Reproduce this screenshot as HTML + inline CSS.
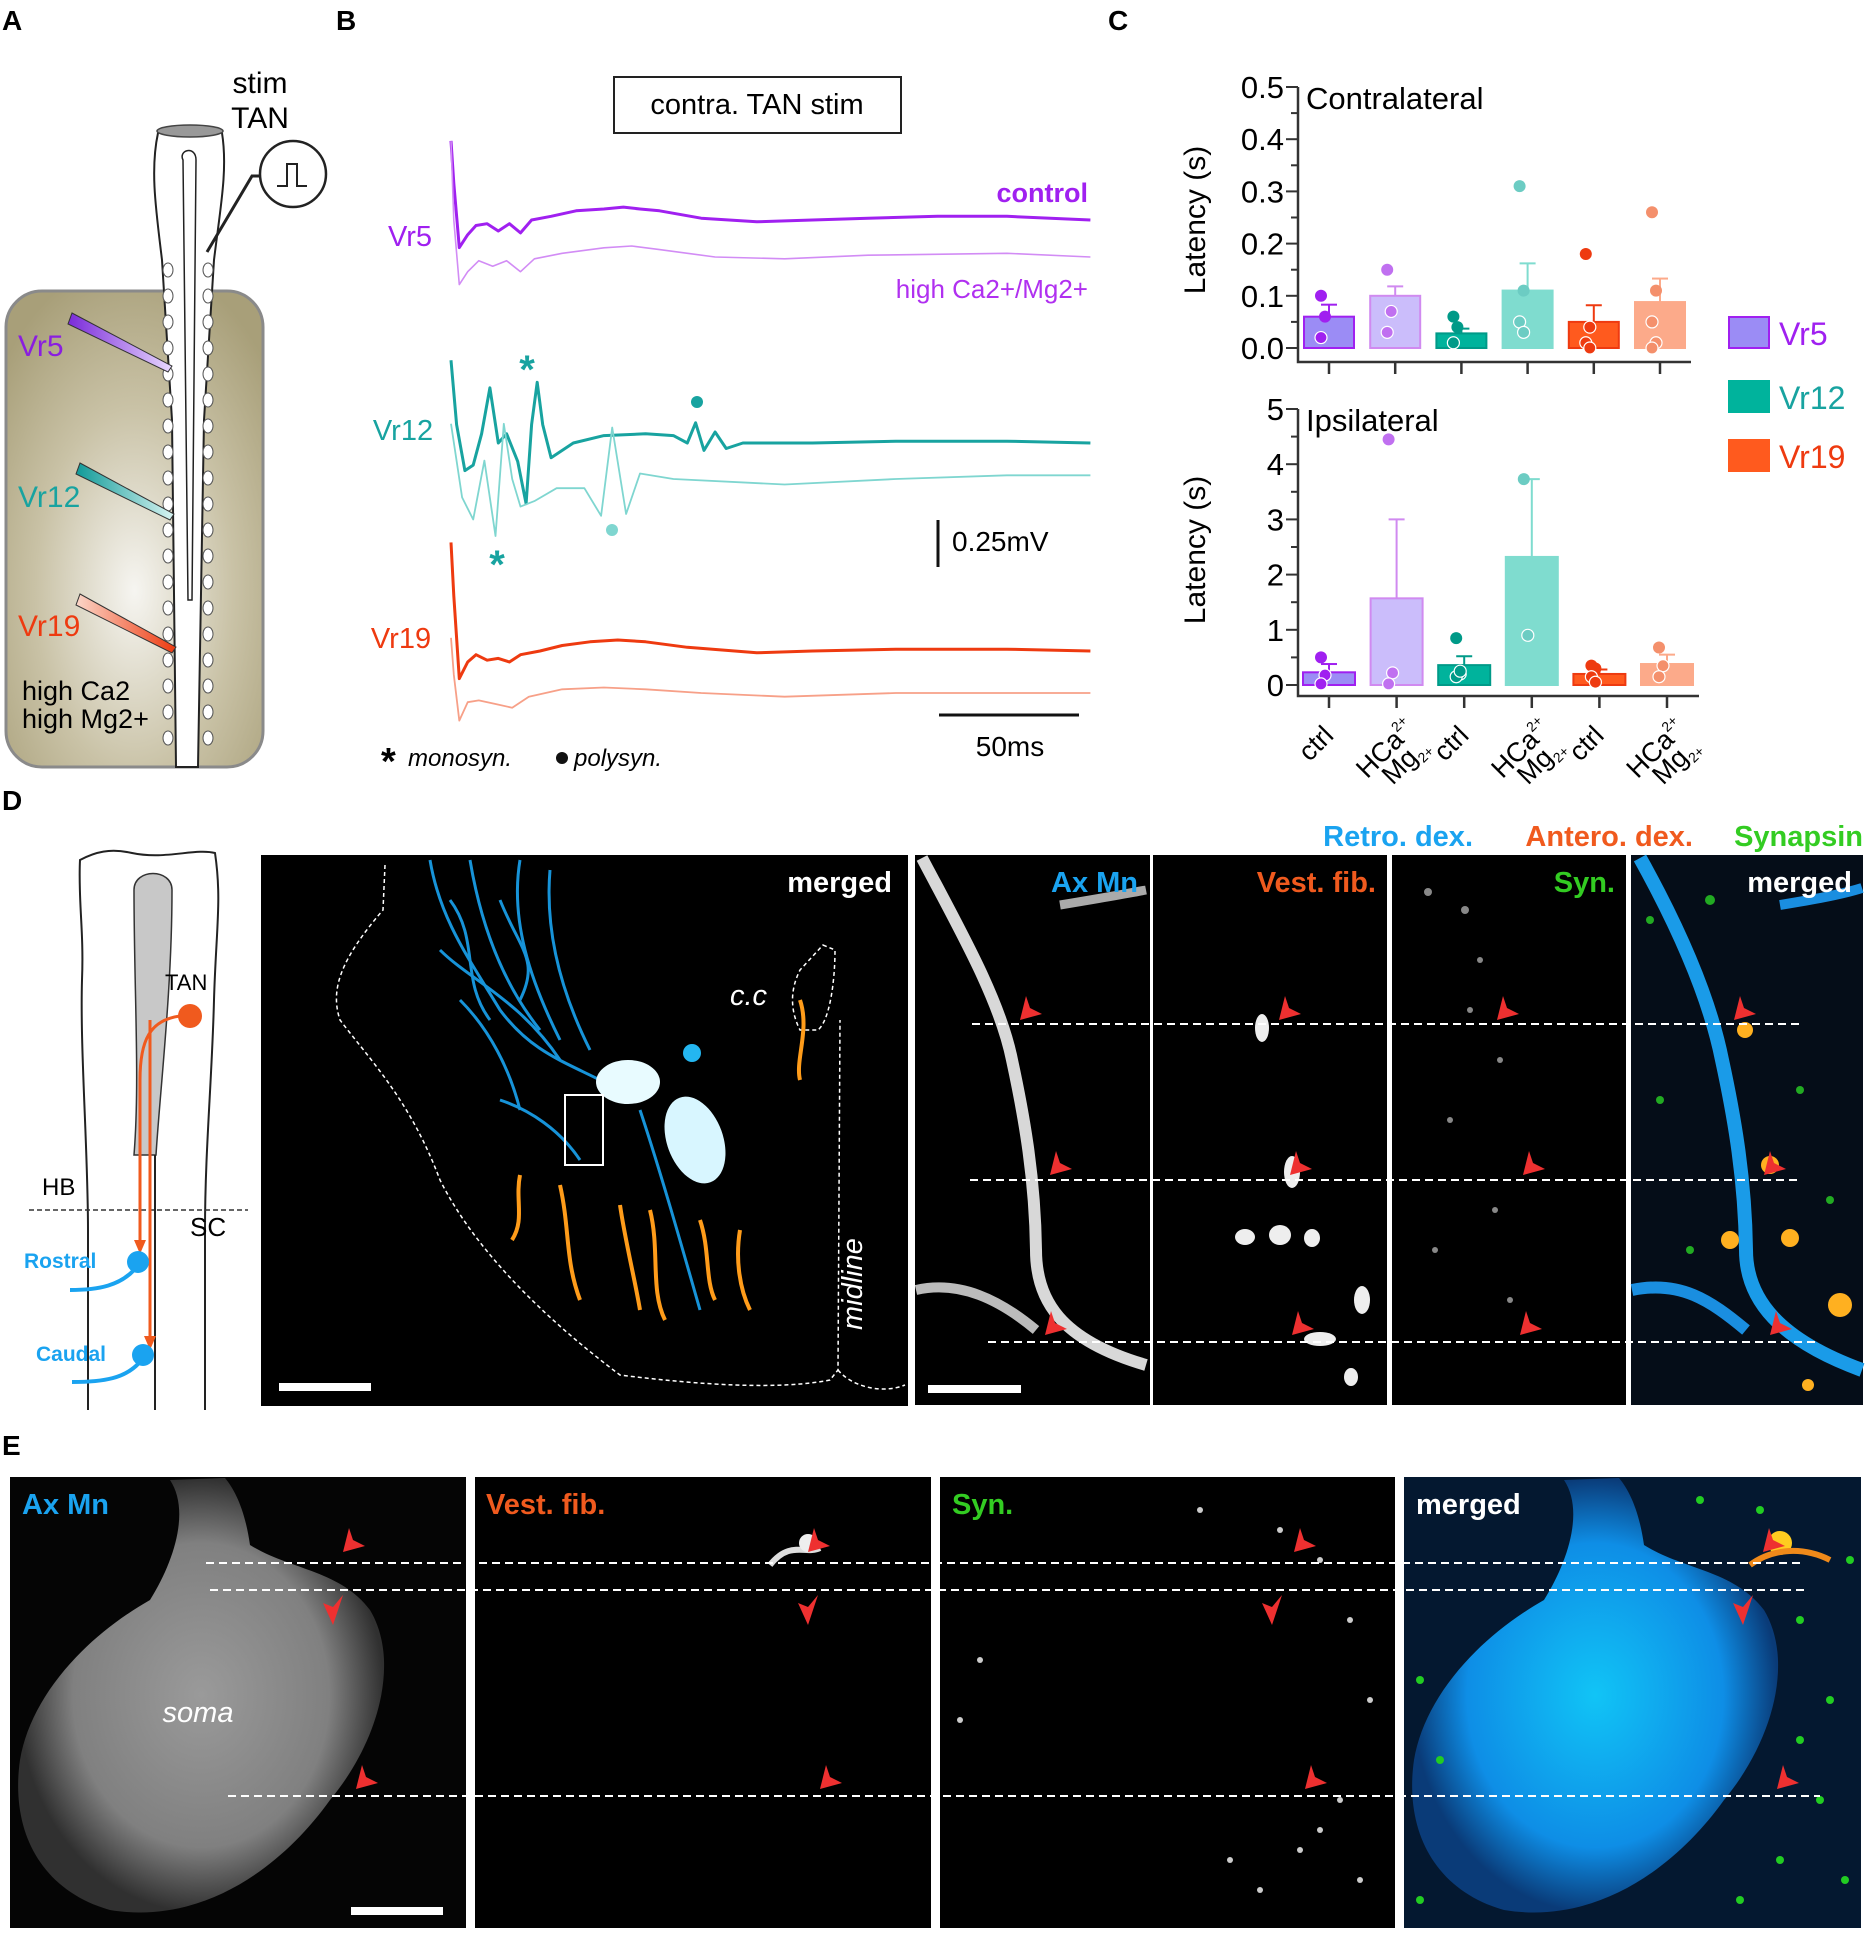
<!DOCTYPE html>
<html><head><meta charset="utf-8"><style>
html,body{margin:0;padding:0;background:#fff}
svg{display:block;font-family:"Liberation Sans",sans-serif}
</style></head><body>
<svg id="fig" xmlns="http://www.w3.org/2000/svg" width="1875" height="1937" viewBox="0 0 1875 1937">
<defs>
<radialGradient id="tan" cx="0.5" cy="0.63" r="0.7"><stop offset="0" stop-color="#f6f5f1"/><stop offset="0.55" stop-color="#c9c2a6"/><stop offset="1" stop-color="#a89f79"/></radialGradient>
<linearGradient id="g5" x1="0" y1="0" x2="1" y2="0"><stop offset="0" stop-color="#7a2ad8"/><stop offset="1" stop-color="#e8d8ff"/></linearGradient>
<linearGradient id="g12" x1="0" y1="0" x2="1" y2="0"><stop offset="0" stop-color="#109a98"/><stop offset="1" stop-color="#d8f4f2"/></linearGradient>
<linearGradient id="g19" x1="0" y1="0" x2="1" y2="0"><stop offset="0" stop-color="#fbd6c8"/><stop offset="1" stop-color="#ee3a10"/></linearGradient>
<radialGradient id="somaG" cx="0.5" cy="0.5" r="0.5"><stop offset="0" stop-color="#9a9a9a"/><stop offset="0.7" stop-color="#808080"/><stop offset="1" stop-color="#303030"/></radialGradient>
<radialGradient id="somaB" cx="0.5" cy="0.5" r="0.5"><stop offset="0" stop-color="#11c4f6"/><stop offset="0.7" stop-color="#0e8ee6"/><stop offset="1" stop-color="#0a3b78"/></radialGradient>
</defs>

<text x="2" y="30" font-size="28" font-weight="bold">A</text>
<text x="336" y="30" font-size="28" font-weight="bold">B</text>
<text x="1108" y="30" font-size="28" font-weight="bold">C</text>
<text x="2" y="810" font-size="28" font-weight="bold">D</text>
<text x="2" y="1455" font-size="28" font-weight="bold">E</text>

<!-- ===== Panel A ===== -->
<g>
<rect x="6" y="291" width="257" height="476" rx="36" fill="url(#tan)" stroke="#8a8a8a" stroke-width="3"/>
<path d="M158,133 C150,170 156,210 162,260 L172,420 L176,767 L198,767 L204,420 L214,260 C220,210 228,170 222,133 Z" fill="#fff" stroke="#222" stroke-width="2"/>
<path d="M183,160 C178,150 196,145 196,160 L192,600 L188,600 Z" fill="#fff" stroke="#222" stroke-width="1.5"/>
<ellipse cx="190" cy="131" rx="33" ry="6" fill="#999" stroke="#444" stroke-width="1.5"/>
<g fill="#fff" stroke="#555" stroke-width="1" id="roots"></g>
<text x="260" y="93" font-size="30" text-anchor="middle">stim</text>
<text x="260" y="128" font-size="30" text-anchor="middle">TAN</text>
<circle cx="293" cy="174" r="33" fill="#fff" stroke="#222" stroke-width="2.5"/>
<path d="M277,186 h10 v-22 h10 v22 h10" fill="none" stroke="#222" stroke-width="2"/>
<path d="M261,176 L252,176 L207,252" fill="none" stroke="#222" stroke-width="3"/>
<path d="M72,313 L172,366 L168,372 L68,324 Z" fill="url(#g5)" stroke="#333" stroke-width="1"/>
<path d="M80,463 L174,514 L170,520 L76,474 Z" fill="url(#g12)" stroke="#333" stroke-width="1"/>
<path d="M80,594 L176,647 L172,653 L76,605 Z" fill="url(#g19)" stroke="#333" stroke-width="1"/>
<text x="18" y="356" font-size="30" fill="#8a1ee0">Vr5</text>
<text x="18" y="507" font-size="30" fill="#18a3a0">Vr12</text>
<text x="18" y="636" font-size="30" fill="#ee3a10">Vr19</text>
<text x="22" y="700" font-size="27">high Ca2</text>
<text x="22" y="728" font-size="27">high Mg2+</text>
</g>

<!-- ===== Panel B ===== -->
<g>
<rect x="614" y="77" width="287" height="56" fill="#fff" stroke="#222" stroke-width="2"/>
<text x="757" y="114" font-size="29" text-anchor="middle">contra. TAN stim</text>
<text x="410" y="246" font-size="29" fill="#a020f0" text-anchor="middle">Vr5</text>
<text x="403" y="440" font-size="29" fill="#18a3a0" text-anchor="middle">Vr12</text>
<text x="401" y="648" font-size="29" fill="#ee3a10" text-anchor="middle">Vr19</text>
<text x="1088" y="202" font-size="27" font-weight="bold" fill="#a020f0" text-anchor="end">control</text>
<text x="1088" y="298" font-size="26" fill="#b030f0" text-anchor="end">high Ca2+/Mg2+</text>
<g id="traces"></g>
<text x="527" y="383" font-size="40" font-weight="bold" fill="#18a3a0" text-anchor="middle">*</text>
<text x="497" y="578" font-size="40" font-weight="bold" fill="#18a3a0" text-anchor="middle">*</text>
<circle cx="697" cy="402" r="6" fill="#18a3a0"/>
<circle cx="612" cy="530" r="6" fill="#7fd6d0"/>
<line x1="938" y1="520" x2="938" y2="567" stroke="#111" stroke-width="3"/>
<text x="952" y="551" font-size="28">0.25mV</text>
<line x1="939" y1="715" x2="1079" y2="715" stroke="#111" stroke-width="3"/>
<text x="1010" y="756" font-size="28" text-anchor="middle">50ms</text>
<text x="381" y="774" font-size="38" font-weight="bold">*</text>
<text x="408" y="766" font-size="24" font-style="italic">monosyn.</text>
<circle cx="562" cy="758" r="6" fill="#111"/>
<text x="574" y="766" font-size="24" font-style="italic">polysyn.</text>
</g>

<!-- ===== Panel C ===== -->
<g id="chartC"></g>

<!-- ===== Panel D schematic ===== -->
<g>
<path d="M88,1410 L88,1230 C88,1150 80,1050 82,980 C84,930 78,900 80,860 C95,852 110,848 132,853 C165,860 195,848 215,853 C222,900 216,930 214,1000 C212,1080 205,1150 205,1230 L205,1410" fill="#fff" stroke="#222" stroke-width="2"/>
<path d="M134,1155 C140,1080 134,990 134,890 C134,868 172,868 172,890 C172,990 160,1090 156,1155 Z" fill="#c8c8c8" stroke="#333" stroke-width="1.5"/>
<line x1="155" y1="1155" x2="155" y2="1410" stroke="#222" stroke-width="2"/>
<line x1="29" y1="1210" x2="248" y2="1210" stroke="#333" stroke-width="1.5" stroke-dasharray="5,3"/>
<text x="42" y="1195" font-size="24">HB</text>
<text x="190" y="1236" font-size="26">SC</text>
<text x="165" y="990" font-size="22">TAN</text>
<circle cx="190" cy="1016" r="12" fill="#f05a1e"/>
<path d="M180,1016 C150,1020 140,1040 140,1080 L140,1240" fill="none" stroke="#f05a1e" stroke-width="3"/>
<path d="M134,1240 L140,1254 L146,1240 Z" fill="#f05a1e"/>
<line x1="150" y1="1020" x2="150" y2="1340" stroke="#f05a1e" stroke-width="3"/>
<path d="M144,1336 L150,1350 L156,1336 Z" fill="#f05a1e"/>
<text x="24" y="1268" font-size="21" font-weight="bold" fill="#1aa3f0">Rostral</text>
<circle cx="138" cy="1262" r="11" fill="#1aa3f0"/>
<path d="M134,1270 C120,1285 100,1290 70,1290" fill="none" stroke="#1aa3f0" stroke-width="4"/>
<text x="36" y="1361" font-size="21" font-weight="bold" fill="#1aa3f0">Caudal</text>
<circle cx="143" cy="1355" r="11" fill="#1aa3f0"/>
<path d="M139,1363 C125,1378 105,1382 72,1382" fill="none" stroke="#1aa3f0" stroke-width="4"/>
</g>

<!-- ===== Panel D image 1 ===== -->
<g>
<rect x="261" y="855" width="647" height="551" fill="#000"/>
<path d="M385,865 L383,910 C340,960 330,990 340,1020 C370,1060 410,1100 440,1180 C480,1260 560,1330 620,1375 C700,1385 780,1390 830,1380 L838,1370 L840,1020" fill="none" stroke="#fff" stroke-width="1.5" stroke-dasharray="4,3"/>
<path d="M838,1370 C850,1385 880,1395 905,1385" fill="none" stroke="#fff" stroke-width="1.5" stroke-dasharray="4,3"/>
<path d="M823,945 L835,950 C835,980 830,1020 818,1030 L800,1030 C790,1010 790,990 800,970 Z" fill="none" stroke="#fff" stroke-width="1.5" stroke-dasharray="4,3"/>
<g stroke="#1aa3f0" stroke-width="3" fill="none" opacity="0.9">
<path d="M430,860 C440,920 470,960 500,1010 C530,1050 560,1060 600,1080"/>
<path d="M470,860 C480,920 500,980 540,1030"/>
<path d="M520,860 C510,920 530,980 560,1040"/>
<path d="M550,870 C545,930 560,990 590,1050"/>
<path d="M440,950 C470,980 520,1000 560,1060"/>
<path d="M460,1000 C490,1030 510,1070 520,1110"/>
<path d="M500,1100 C530,1110 560,1130 580,1160"/>
<path d="M640,1110 C660,1170 680,1240 700,1310"/>
<path d="M450,900 C480,940 460,980 490,1020"/>
<path d="M500,900 C520,950 540,960 520,1000"/>
</g>
<ellipse cx="628" cy="1082" rx="32" ry="22" fill="#e8fbff"/>
<ellipse cx="695" cy="1140" rx="28" ry="45" fill="#d8f6ff" transform="rotate(-20 695 1140)"/>
<circle cx="692" cy="1053" r="9" fill="#24b6f0"/>
<g stroke="#ff9c1a" stroke-width="4" fill="none">
<path d="M520,1175 C515,1200 525,1220 512,1240"/>
<path d="M560,1185 C570,1230 565,1260 580,1300"/>
<path d="M620,1205 C625,1240 635,1280 640,1310"/>
<path d="M650,1210 C660,1250 650,1290 665,1320"/>
<path d="M700,1220 C710,1250 705,1280 715,1300"/>
<path d="M740,1230 C735,1260 740,1290 750,1310"/>
<path d="M800,1000 C810,1030 795,1060 800,1080"/>
</g>
<rect x="565" y="1095" width="38" height="70" fill="none" stroke="#fff" stroke-width="2"/>
<text x="892" y="892" font-size="29" font-weight="bold" fill="#fff" text-anchor="end">merged</text>
<text x="730" y="1005" font-size="29" font-style="italic" fill="#fff">c.c</text>
<text transform="translate(862 1330) rotate(-90)" font-size="29" font-style="italic" fill="#fff">midline</text>
<rect x="279" y="1383" width="92" height="8" fill="#fff"/>
</g>

<!-- ===== Panel D zoom panels ===== -->
<g>
<text x="1473" y="846" font-size="29" font-weight="bold" fill="#1aa3f0" text-anchor="end">Retro. dex.</text>
<text x="1693" y="846" font-size="29" font-weight="bold" fill="#f05a1e" text-anchor="end">Antero. dex.</text>
<text x="1863" y="846" font-size="29" font-weight="bold" fill="#33cc22" text-anchor="end">Synapsin</text>
<rect x="915" y="855" width="235" height="550" fill="#000"/>
<rect x="1153" y="855" width="234" height="550" fill="#000"/>
<rect x="1392" y="855" width="234" height="550" fill="#000"/>
<rect x="1631" y="855" width="232" height="550" fill="#050d18"/>
<path d="M922,858 C960,930 1000,1000 1012,1060 C1025,1120 1035,1180 1036,1250 C1036,1300 1060,1340 1146,1365" fill="none" stroke="#d8d8d8" stroke-width="12"/>
<path d="M916,1290 C960,1280 1000,1300 1036,1330" fill="none" stroke="#bbb" stroke-width="10"/>
<path d="M1060,905 C1090,900 1120,895 1146,890" fill="none" stroke="#aaa" stroke-width="9"/>
<g fill="#eee"><ellipse cx="1262" cy="1028" rx="7" ry="14"/><ellipse cx="1292" cy="1172" rx="8" ry="16"/><ellipse cx="1245" cy="1237" rx="10" ry="8"/><ellipse cx="1280" cy="1235" rx="11" ry="10"/><ellipse cx="1312" cy="1238" rx="8" ry="9"/><ellipse cx="1320" cy="1339" rx="16" ry="7"/><ellipse cx="1351" cy="1377" rx="7" ry="9"/><ellipse cx="1362" cy="1300" rx="8" ry="14"/></g>
<g fill="#888"><circle cx="1428" cy="892" r="4"/><circle cx="1465" cy="910" r="4"/><circle cx="1480" cy="960" r="3"/><circle cx="1470" cy="1010" r="3"/><circle cx="1500" cy="1060" r="3"/><circle cx="1450" cy="1120" r="3"/><circle cx="1495" cy="1210" r="3"/><circle cx="1435" cy="1250" r="3"/><circle cx="1510" cy="1300" r="3"/></g>
<path d="M1640,858 C1680,930 1710,1000 1722,1060 C1735,1120 1745,1180 1746,1250 C1746,1300 1780,1340 1862,1370" fill="none" stroke="#1a9be8" stroke-width="14"/>
<path d="M1632,1290 C1680,1280 1710,1300 1746,1330" fill="none" stroke="#1a8ee0" stroke-width="12"/>
<path d="M1780,905 C1810,900 1840,895 1862,888" fill="none" stroke="#1a8ee0" stroke-width="10"/>
<g fill="#ffb020"><circle cx="1745" cy="1030" r="8"/><circle cx="1770" cy="1165" r="9"/><circle cx="1730" cy="1240" r="9"/><circle cx="1790" cy="1238" r="9"/><circle cx="1840" cy="1305" r="12"/><circle cx="1808" cy="1385" r="6"/></g>
<g fill="#22aa22"><circle cx="1650" cy="920" r="4"/><circle cx="1710" cy="900" r="5"/><circle cx="1690" cy="1250" r="4"/><circle cx="1800" cy="1090" r="4"/><circle cx="1660" cy="1100" r="4"/><circle cx="1830" cy="1200" r="4"/></g>
<text x="1138" y="892" font-size="29" font-weight="bold" fill="#1aa3f0" text-anchor="end">Ax Mn</text>
<text x="1376" y="892" font-size="29" font-weight="bold" fill="#f05a1e" text-anchor="end">Vest. fib.</text>
<text x="1615" y="892" font-size="29" font-weight="bold" fill="#33cc22" text-anchor="end">Syn.</text>
<text x="1852" y="892" font-size="29" font-weight="bold" fill="#fff" text-anchor="end">merged</text>
<g stroke="#fff" stroke-width="2" stroke-dasharray="8,5">
<line x1="972" y1="1024" x2="1800" y2="1024"/><line x1="970" y1="1180" x2="1800" y2="1180"/><line x1="988" y1="1342" x2="1815" y2="1342"/>
</g>
<rect x="928" y="1385" width="93" height="8" fill="#fff"/>
<g id="arrowsD" fill="#ee3030"></g>
</g>

<!-- ===== Panel E ===== -->
<g>
<rect x="10" y="1477" width="456" height="451" fill="#050505"/>
<rect x="475" y="1477" width="456" height="451" fill="#000"/>
<rect x="940" y="1477" width="455" height="451" fill="#000"/>
<rect x="1404" y="1477" width="457" height="451" fill="#041830"/>
<path d="M170,1480 C190,1510 175,1560 150,1600 C80,1640 30,1700 20,1760 C10,1830 40,1890 110,1910 C200,1925 280,1870 330,1800 C380,1740 400,1660 370,1610 C340,1570 290,1570 250,1545 C245,1510 235,1490 225,1478 Z" fill="url(#somaG)"/>
<text x="198" y="1722" font-size="29" font-style="italic" fill="#fff" text-anchor="middle">soma</text>
<rect x="351" y="1907" width="92" height="8" fill="#fff"/>
<path d="M1564,1480 C1584,1510 1569,1560 1544,1600 C1474,1640 1424,1700 1414,1760 C1404,1830 1434,1890 1504,1910 C1594,1925 1674,1870 1724,1800 C1774,1740 1794,1660 1764,1610 C1734,1570 1684,1570 1644,1545 C1639,1510 1629,1490 1619,1478 Z" fill="url(#somaB)"/>
<path d="M770,1565 C790,1540 805,1555 820,1548" stroke="#ddd" stroke-width="6" fill="none"/>
<circle cx="808" cy="1543" r="9" fill="#eee"/>
<circle cx="1780" cy="1543" r="12" fill="#ffcc20"/><path d="M1750,1565 C1770,1550 1800,1545 1830,1560" stroke="#f08a1a" stroke-width="6" fill="none"/>
<g fill="#ccc"><circle cx="1200" cy="1510" r="3"/><circle cx="1280" cy="1530" r="3"/><circle cx="1320" cy="1560" r="3"/><circle cx="1350" cy="1620" r="3"/><circle cx="1370" cy="1700" r="3"/><circle cx="1340" cy="1800" r="3"/><circle cx="1300" cy="1850" r="3"/><circle cx="1260" cy="1890" r="3"/><circle cx="1360" cy="1880" r="3"/><circle cx="1230" cy="1860" r="3"/><circle cx="1320" cy="1830" r="3"/><circle cx="960" cy="1720" r="3"/><circle cx="980" cy="1660" r="3"/></g>
<g fill="#22cc22"><circle cx="1420" cy="1680" r="4"/><circle cx="1440" cy="1760" r="4"/><circle cx="1800" cy="1620" r="4"/><circle cx="1830" cy="1700" r="4"/><circle cx="1820" cy="1800" r="4"/><circle cx="1780" cy="1860" r="4"/><circle cx="1740" cy="1900" r="4"/><circle cx="1845" cy="1880" r="4"/><circle cx="1700" cy="1500" r="4"/><circle cx="1760" cy="1510" r="4"/><circle cx="1850" cy="1560" r="4"/><circle cx="1420" cy="1900" r="4"/><circle cx="1800" cy="1740" r="4"/></g>
<text x="22" y="1514" font-size="29" font-weight="bold" fill="#1aa3f0">Ax Mn</text>
<text x="486" y="1514" font-size="29" font-weight="bold" fill="#f05a1e">Vest. fib.</text>
<text x="952" y="1514" font-size="29" font-weight="bold" fill="#33cc22">Syn.</text>
<text x="1416" y="1514" font-size="29" font-weight="bold" fill="#fff">merged</text>
<g stroke="#fff" stroke-width="2" stroke-dasharray="8,5">
<line x1="206" y1="1563" x2="1800" y2="1563"/><line x1="210" y1="1590" x2="1805" y2="1590"/><line x1="228" y1="1796" x2="1820" y2="1796"/>
</g>
<g id="arrowsE" fill="#ee3030"></g>
</g>
</svg>

<script>
(function(){
  var g=document.getElementById('roots');
  for(var y=270;y<760;y+=26){
    [[172,-1],[204,1]].forEach(function(s){
      var e=document.createElementNS('http://www.w3.org/2000/svg','ellipse');
      e.setAttribute('cx',s[0]+s[1]*4);e.setAttribute('cy',y);e.setAttribute('rx',5);e.setAttribute('ry',7);
      g.appendChild(e);
    });
  }
})();

// ---------- Panel B traces: [time ms, mV relative to baseline] ----------
var vr5Control=[[0,0.43],[1,0.2],[3,-0.15],[6,-0.08],[9,-0.03],[13,-0.02],[17,-0.06],[21,-0.02],[25,-0.07],[29,0.0],[36,0.02],[45,0.05],[55,0.06],[62,0.07],[68,0.06],[75,0.05],[90,0.01],[110,-0.01],[130,0.0],[150,0.01],[175,0.02],[200,0.02],[230,0.0]];
var vr5High=[[0,0.63],[1,0.2],[3,-0.15],[6,-0.08],[10,-0.02],[15,-0.05],[20,-0.02],[25,-0.08],[30,-0.01],[40,0.02],[55,0.05],[65,0.06],[75,0.04],[95,0.0],[120,-0.01],[150,0.01],[200,0.02],[230,0.0]];
var vr12Control=[[0,0.45],[2,0.1],[5,-0.15],[8,-0.12],[11,0.05],[14,0.3],[17,0.0],[20,0.05],[24,-0.1],[27,-0.33],[29,0.1],[31,0.33],[33,0.1],[36,-0.08],[40,-0.04],[44,0.0],[55,0.04],[70,0.05],[80,0.04],[85,0.0],[88,0.11],[91,-0.04],[95,0.06],[99,-0.03],[105,0.0],[130,0.0],[160,0.01],[200,0.01],[230,0.0]];
var vr12High=[[0,0.3],[4,-0.1],[8,-0.22],[12,0.1],[16,-0.31],[19,0.3],[22,0.0],[25,-0.15],[30,-0.12],[38,-0.05],[48,-0.05],[54,-0.2],[58,0.28],[63,-0.19],[68,0.03],[80,0.0],[120,-0.03],[160,0.0],[200,0.02],[230,0.02]];
var vr19Control=[[0,0.59],[1,0.3],[3,-0.15],[6,-0.06],[9,-0.02],[13,-0.05],[17,-0.04],[21,-0.06],[25,-0.02],[32,0.0],[40,0.03],[50,0.05],[60,0.06],[70,0.05],[85,0.02],[110,-0.01],[130,0.0],[160,0.01],[200,0.01],[230,0.0]];
var vr19High=[[0,0.3],[1,0.1],[3,-0.15],[6,-0.05],[10,-0.04],[16,-0.06],[22,-0.08],[28,-0.02],[40,0.02],[55,0.03],[70,0.02],[90,0.0],[120,-0.02],[160,0.0],[230,0.0]];
(function(){
  var x0=451, pxPerMs=2.78, pxPerMv=184;
  function X(t){return x0+t*pxPerMs;}
  function Y(base,v){return base-v*pxPerMv;}
  var defs=[[vr5Control,220,'#a020f0',3,'trace-vr5-control'],[vr5High,257,'#d28cf5',1.6,'trace-vr5-highca'],
            [vr12Control,443,'#18a3a0',3,'trace-vr12-control'],[vr12High,479,'#7fd6d0',1.8,'trace-vr12-highca'],
            [vr19Control,651,'#ee3a10',3,'trace-vr19-control'],[vr19High,693,'#f7a088',1.8,'trace-vr19-highca']];
  var g=document.getElementById('traces');
  defs.forEach(function(d){
    var p=document.createElementNS('http://www.w3.org/2000/svg','polyline');
    p.setAttribute('points',d[0].map(function(q){return X(q[0]).toFixed(1)+','+Y(d[1],q[1]).toFixed(1);}).join(' '));
    p.setAttribute('fill','none');p.setAttribute('stroke',d[2]);p.setAttribute('stroke-width',d[3]);p.setAttribute('stroke-linejoin','round');
    
    
    g.appendChild(p);
  });
})();

// ---------- Panel C data ----------
var groups=['ctrl','HCa','ctrl','HCa','ctrl','HCa'];
var contraMean=[0.06,0.10,0.028,0.11,0.05,0.088];
var contraErr=[0.083,0.118,0.037,0.162,0.082,0.133];
var contraPts=[[0.10,0.06,0.02],[0.15,0.07,0.03],[0.06,0.04,0.01],[0.31,0.11,0.05,0.03],[0.18,0.04,0.01,0.0],[0.26,0.11,0.05,0.01,0.0]];
var ipsiMean=[0.23,1.57,0.36,2.32,0.20,0.38];
var ipsiErr=[0.38,3.0,0.52,3.73,0.28,0.55];
var ipsiPts=[[0.5,0.18,0.02],[4.45,0.22,0.02],[0.85,0.2,0.15,0.25],[3.73,0.9],[0.35,0.3,0.15,0.05],[0.68,0.35,0.15]];
var contraTicks=['0.0','0.1','0.2','0.3','0.4','0.5'];
var ipsiTicks=['0','1','2','3','4','5'];
var legendLabels=['Vr5','Vr12','Vr19'];
(function(){
  var NS='http://www.w3.org/2000/svg', root=document.getElementById('chartC');
  function el(t,a,parent){var e=document.createElementNS(NS,t);for(var k in a)e.setAttribute(k,a[k]);(parent||root).appendChild(e);return e;}
  var fills=['#9b8cf5','#cbbdfb','#00b39c','#7fdccf','#ff5a1e','#fcaa8a'];
  var strokes=['#a020f0','#d08af0','#009a88','#7fdccf','#ee3a10','#fcaa8a'];
  var dots=['#a020f0','#c070f0','#009a88','#6cccc3','#ee3a10','#f4906c'];
  function panel(o){
    var axX=1298;
    function Y(v){return o.y0-(v/o.max)*(o.y0-o.yTop);}
    var ax=el('path',{d:'M'+axX+','+o.yTop+' V'+o.axisY+' H'+o.xEnd,fill:'none',stroke:'#333','stroke-width':2.5});
    
    
    o.ticks.forEach(function(lbl,i){
      var v=o.max*i/(o.ticks.length-1), y=Y(v);
      el('line',{x1:axX-12,x2:axX,y1:y,y2:y,stroke:'#333','stroke-width':2});
      if(i<o.ticks.length-1){var ym=Y(v+o.max/(o.ticks.length-1)/2);el('line',{x1:axX-7,x2:axX,y1:ym,y2:ym,stroke:'#333','stroke-width':2});}
      var t=el('text',{x:axX-14,y:y+11,'font-size':31,'text-anchor':'end'});t.textContent=lbl;
      
      
    });
    var tt=el('text',{transform:'translate(1205 '+o.titleY+') rotate(-90)','font-size':30,'text-anchor':'middle'});tt.textContent='Latency (s)';
    
    
    var ti=el('text',{x:1306,y:o.yTop+22,'font-size':31});ti.textContent=o.title;
    
    
    o.mean.forEach(function(m,i){
      var cx=o.cx0+i*o.dx, w=o.bw;
      el('line',{x1:cx,x2:cx,y1:o.axisY,y2:o.axisY+12,stroke:'#333','stroke-width':2.5});
      el('line',{x1:cx,x2:cx,y1:Y(m),y2:Y(o.err[i]),stroke:strokes[i],'stroke-width':2});
      el('line',{x1:cx-8,x2:cx+8,y1:Y(o.err[i]),y2:Y(o.err[i]),stroke:strokes[i],'stroke-width':2});
      var r=el('rect',{x:cx-w/2,y:Y(m),width:w,height:o.y0-Y(m),fill:fills[i],stroke:strokes[i],'stroke-width':2});
      
      
      o.pts[i].forEach(function(p,j){
        var c=el('circle',{cx:cx-8+(j%2)*4,cy:Y(p),r:6,fill:dots[i],stroke:(p<m?'#fff':'none'),'stroke-width':1.2});
        
        
      });
    });
  }
  panel({name:'contra',yTop:87,y0:348,axisY:362,xEnd:1691,max:0.5,ticks:contraTicks,mean:contraMean,err:contraErr,pts:contraPts,cx0:1329,dx:66.2,bw:50,titleY:220,title:'Contralateral'});
  panel({name:'ipsi',yTop:409,y0:685,axisY:696,xEnd:1699,max:5,ticks:ipsiTicks,mean:ipsiMean,err:ipsiErr,pts:ipsiPts,cx0:1329,dx:67.6,bw:52,titleY:550,title:'Ipsilateral'});
  groups.forEach(function(gname,i){
    var cx=1329+i*67.6;
    var t=el('text',{transform:'translate('+(cx+6)+' 737) rotate(-45)','font-size':27,'text-anchor':'end'});
    if(gname==='ctrl'){t.textContent='ctrl';}
    else{
      t.setAttribute('transform','translate('+(cx+20)+' 730) rotate(-45)');
      t.textContent='HCa';
      var s=el('tspan',{'font-size':14,dy:-12},t);s.textContent='2+';
      var t2=el('text',{transform:'translate('+(cx+34)+' 748) rotate(-45)','font-size':27,'text-anchor':'end'});
      t2.textContent='Mg';var s2=el('tspan',{'font-size':14,dy:6},t2);s2.textContent='2+';
      
      
    }
    
    
  });
  var ly=[317,381,440], lf=['#9b8cf5','#00b39c','#ff5a1e'], ls=['#a020f0','#00b39c','#ff5a1e'], lt=['#a020f0','#18a3a0','#ee3a10'];
  legendLabels.forEach(function(l,i){
    var r=el('rect',{x:1729,y:ly[i],width:40,height:31,fill:lf[i],stroke:ls[i],'stroke-width':2});
    
    
    var t=el('text',{x:1779,y:ly[i]+28,'font-size':32,fill:lt[i]});t.textContent=l;
    
    
  });
})();

(function(){
  var NS='http://www.w3.org/2000/svg';
  function arrow(g,x,y){
    var p=document.createElementNS(NS,'path');
    p.setAttribute('d','M'+x+','+y+' l6,-24 l4,12 l12,6 Z');
    
    
    g.appendChild(p);
  }
  var gD=document.getElementById('arrowsD');
  [[1020,1020],[1279,1020],[1497,1020],[1734,1020],[1050,1175],[1290,1175],[1523,1175],[1764,1175],[1045,1335],[1292,1335],[1520,1335],[1770,1335]].forEach(function(a){arrow(gD,a[0],a[1]);});
  var gE=document.getElementById('arrowsE');
  [[343,1552],[808,1552],[1294,1552],[1763,1552],[356,1789],[820,1789],[1305,1789],[1777,1789]].forEach(function(a){arrow(gE,a[0],a[1]);});
  [[333,1595],[808,1595],[1272,1595],[1743,1595]].forEach(function(a){
    var p=document.createElementNS(NS,'path');
    p.setAttribute('d','M'+a[0]+','+(a[1]+30)+' l-10,-22 l10,4 l10,-12 Z');
    
    
    gE.appendChild(p);
  });
})();
</script>
</body></html>
